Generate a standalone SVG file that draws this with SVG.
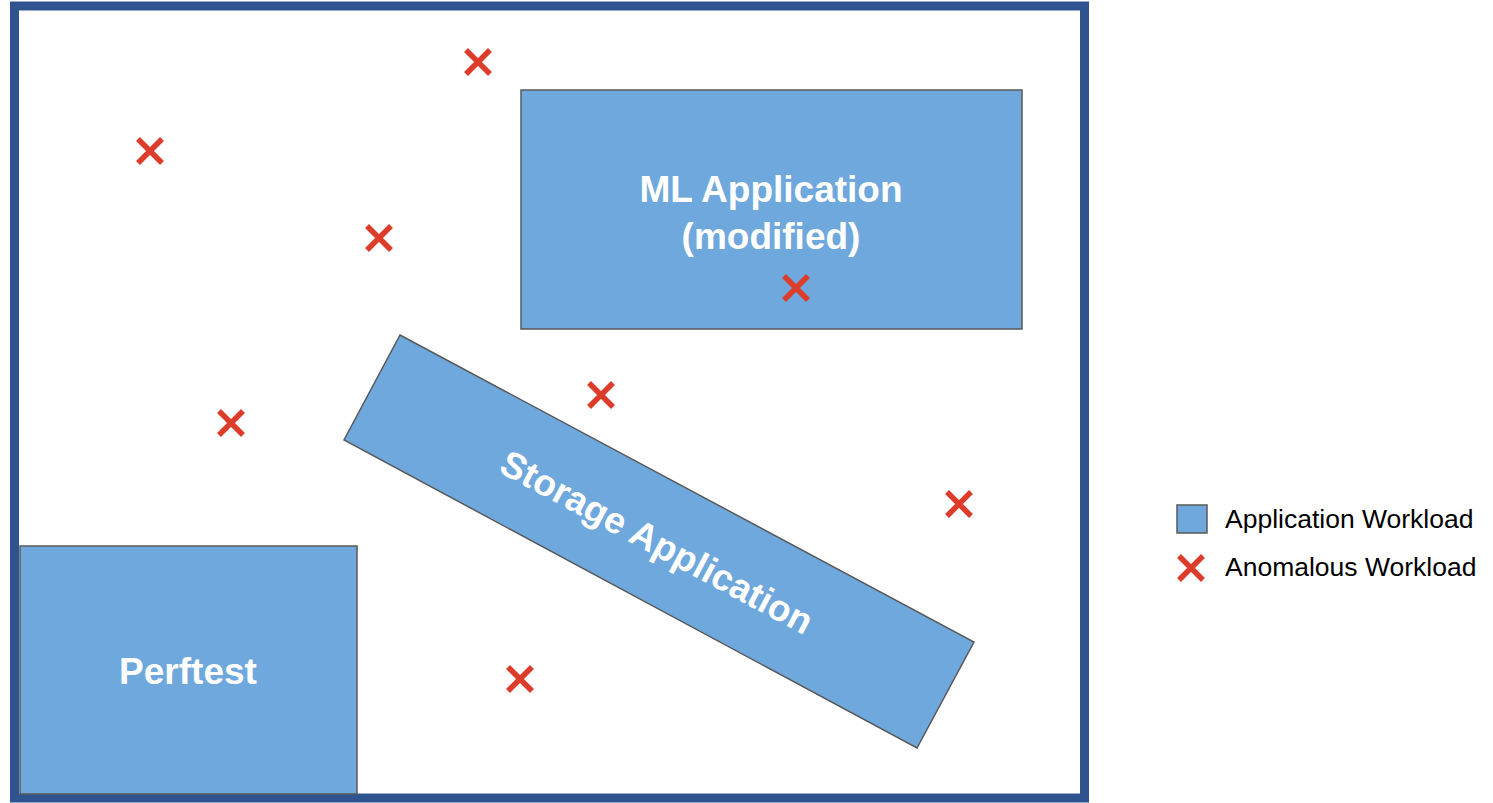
<svg xmlns="http://www.w3.org/2000/svg" width="1493" height="803" viewBox="0 0 1493 803">
<defs>
<style>
.app{fill:#6fa8dc;stroke:#595959;stroke-width:1.5}
.lbl{font-family:"Liberation Sans",Arial,sans-serif;font-weight:bold;fill:#ffffff;text-anchor:middle}
.leg{font-family:"Liberation Sans",Arial,sans-serif;font-size:26.5px;fill:#000000}
.x{stroke:#dc3c2a;stroke-width:5.5;stroke-linecap:butt;fill:none}
</style>
<g id="xmark"><path class="x" d="M-12,-12L12,12M12,-12L-12,12"/></g>
</defs>
<rect width="1493" height="803" fill="#ffffff"/>
<rect id="frame" x="14.5" y="6" width="1070" height="792" fill="none" stroke="#2f538f" stroke-width="9"/>
<g id="perftest">
<rect class="app" x="20" y="546" width="337" height="248"/>
<text class="lbl" x="188" y="684" font-size="37">Perftest</text>
</g>
<g id="ml-application">
<rect class="app" x="521" y="90" width="501" height="239"/>
<text class="lbl" x="771" y="202" font-size="37">ML Application</text>
<text class="lbl" x="771" y="249" font-size="37">(modified)</text>
</g>
<g id="storage-application">
<polygon class="app" points="400,335 974,642 917,748 344,440"/>
<text class="lbl" x="657" y="555" font-size="37" transform="rotate(28.1 657 542)">Storage Application</text>
</g>
<g id="anomalies">
<use href="#xmark" x="478" y="62"/>
<use href="#xmark" x="150" y="151"/>
<use href="#xmark" x="379" y="238"/>
<use href="#xmark" x="796" y="288"/>
<use href="#xmark" x="601" y="395"/>
<use href="#xmark" x="231" y="423"/>
<use href="#xmark" x="959" y="504"/>
<use href="#xmark" x="520" y="679"/>
</g>
<g id="legend">
<rect x="1177" y="505" width="30" height="28" fill="#6fa8dc" stroke="#595959" stroke-width="1.5"/>
<text class="leg" x="1225" y="528">Application Workload</text>
<use href="#xmark" x="1191" y="568"/>
<text class="leg" x="1225" y="576">Anomalous Workload</text>
</g>
</svg>
